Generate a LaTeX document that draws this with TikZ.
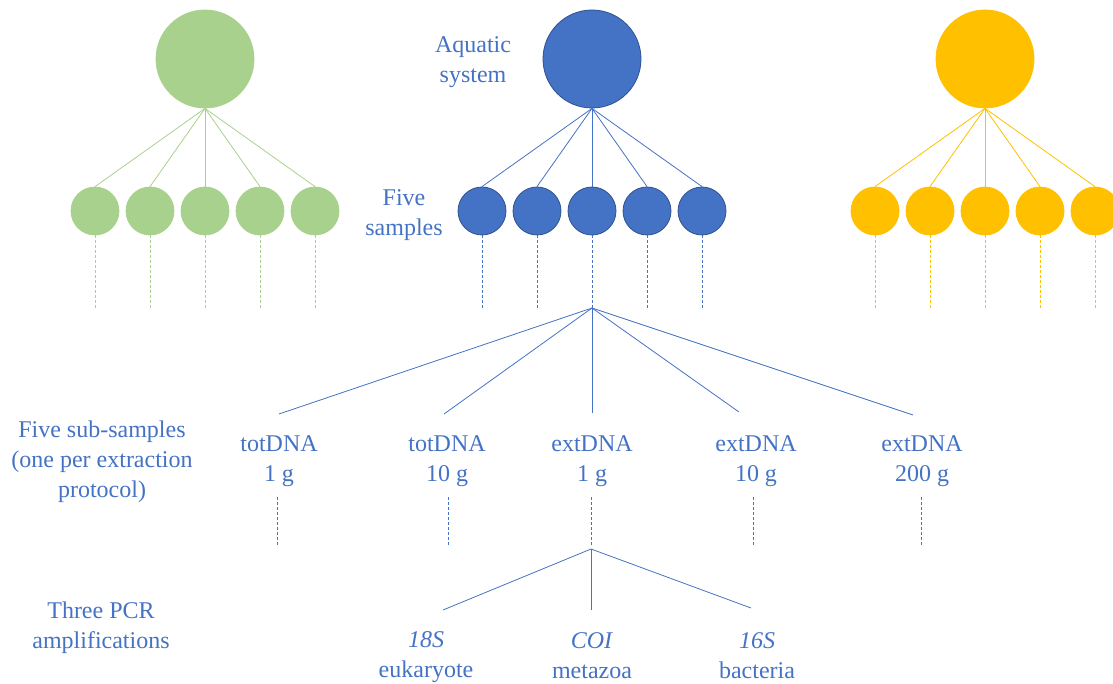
\documentclass[tikz,border=0pt]{standalone}
\usepackage{fontspec}
\setmainfont{Liberation Serif}
\definecolor{oblue}{HTML}{4472C4}
\definecolor{oblued}{HTML}{2F528F}
\definecolor{ogreen}{HTML}{A9D18E}
\definecolor{oyellow}{HTML}{FFC000}
\newcommand\lblT{\rule{0pt}{16pt}}
\newcommand\lblB{\rule[-5pt]{0pt}{5pt}}
\begin{document}
\begin{tikzpicture}[x=1pt,y=-1pt,
  big/.style={circle, minimum size=98pt, inner sep=0pt, line width=0.8pt},
  small/.style={circle, minimum size=48pt, inner sep=0pt, line width=0.8pt},
  lbl/.style={text=oblue, font=\fontsize{24}{30}\selectfont, align=center, inner sep=0pt},
  conn/.style={line width=0.8pt},
  dashconn/.style={line width=0.8pt, dash pattern=on 3pt off 2pt}]
\useasboundingbox (0,0) rectangle (1113,684);
\clip (0,0) rectangle (1113,684);

% ---- three aquatic systems ----
\foreach \nm/\cx/\fc/\dc in {G/205/ogreen/ogreen, B/592/oblue/oblued, Y/985/oyellow/oyellow}{
  \node[big, fill=\fc, draw=\dc] (\nm) at (\cx,59) {};
  \foreach \i in {0,...,4}{
    \pgfmathsetmacro{\sx}{\cx-110+55*\i}
    \node[small, fill=\fc, draw=\dc] (\nm\i) at (\sx,211) {};
    \coordinate (\nm d\i) at (\sx,308);
    \draw[conn, draw=\fc] (\nm.south) -- (\nm\i.north);
    \draw[dashconn, draw=\fc] (\nm\i.south) -- (\nm d\i);
  }
}

% ---- labels ----
\node[lbl] (aq) at (473,62) {\lblT Aquatic\\system\lblB};
\node[lbl] (fs) at (404,215.5) {\lblT Five\\samples\lblB};
\node[lbl] (fss) at (102,461.5) {\lblT Five sub-samples\\(one per extraction\\protocol)\lblB};
\node[lbl] (pcr) at (101,627.5) {\lblT Three PCR\\amplifications\lblB};

% ---- sub-samples ----
\coordinate (apex) at (592,308);
\foreach \k/\lx/\ex/\ey/\dx/\txt in {
  1/279/279/414/277/{\lblT totDNA\\1 g\lblB},
  2/447/444/414/448/{\lblT totDNA\\10 g\lblB},
  3/592/592/413/591/{\lblT extDNA\\1 g\lblB},
  4/756/739/412/753/{\lblT extDNA\\10 g\lblB},
  5/922/913/415/921/{\lblT extDNA\\200 g\lblB}}{
  \node[lbl] (s\k) at (\lx,461.5) {\txt};
  \coordinate (e\k) at (\ex,\ey);
  \coordinate (st\k) at (\dx,497);
  \coordinate (sb\k) at (\dx,545);
  \draw[conn, draw=oblue] (apex) -- (e\k);
  \draw[dashconn, draw=oblue] (st\k) -- (sb\k);
}

% ---- PCR amplifications ----
\coordinate (papex) at (591,549);
\coordinate (p1) at (443,610);
\coordinate (p2) at (591,610);
\coordinate (p3) at (751,608);
\draw[conn, draw=oblue] (papex) -- (p1);
\draw[conn, draw=oblue] (papex) -- (p2);
\draw[conn, draw=oblue] (papex) -- (p3);
\node[lbl] (m1) at (426,657.5) {\lblT\textit{18S}\\eukaryote\lblB};
\node[lbl] (m2) at (592,657.5) {\lblT\textit{COI}\\metazoa\lblB};
\node[lbl] (m3) at (757,657.5) {\lblT\textit{16S}\\bacteria\lblB};
\end{tikzpicture}
\end{document}
